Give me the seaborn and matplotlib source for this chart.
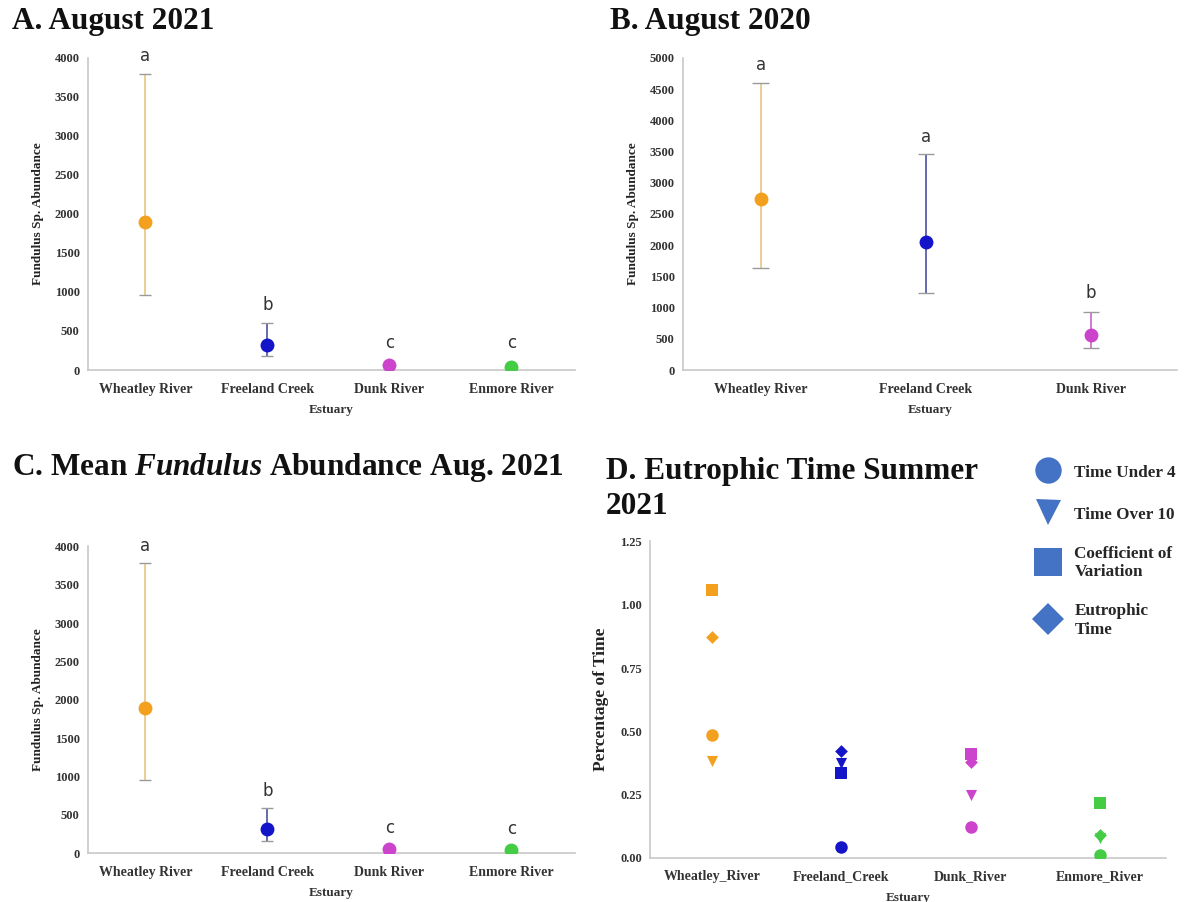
import numpy as np
import pandas as pd
import matplotlib
matplotlib.use("Agg")
import matplotlib.pyplot as plt
from matplotlib.lines import Line2D
import seaborn as sns

# ---- data -------------------------------------------------------------
estuaries_4 = ["Wheatley River", "Freeland Creek", "Dunk River", "Enmore River"]
estuaries_3 = ["Wheatley River", "Freeland Creek", "Dunk River"]

# A. August 2021
a_mean = [1900, 320, 62, 42]
a_low = [960, 180, 62, 42]
a_high = [3800, 600, 62, 42]
a_letters = ["a", "b", "c", "c"]
a_letter_y = [4030, 830, 345, 340]

# B. August 2020
b_mean = [2735, 2055, 560]
b_low = [1630, 1230, 345]
b_high = [4600, 3455, 925]
b_letters = ["a", "a", "b"]
b_letter_y = [4890, 3740, 1240]

# C. Mean Fundulus abundance Aug. 2021
c_mean = [1895, 310, 52, 34]
c_low = [955, 160, 52, 34]
c_high = [3785, 592, 52, 34]
c_letters = ["a", "b", "c", "c"]
c_letter_y = [4010, 815, 322, 318]

# D. Eutrophic time summer 2021
d_sites = ["Wheatley_River", "Freeland_Creek", "Dunk_River", "Enmore_River"]
d_time_under_4 = [0.487, 0.042, 0.123, 0.012]
d_time_over_10 = [0.383, 0.376, 0.249, 0.080]
d_coef_variation = [1.057, 0.334, 0.409, 0.216]
d_eutrophic_time = [0.871, 0.422, 0.380, 0.090]
d_metric_names = ["Time Under 4", "Time Over 10", "Coefficient of\nVariation", "Eutrophic\nTime"]

# ---- styling ------------------------------------------------------------
sns.set_theme(style="white")
plt.rcParams["font.family"] = ["Liberation Serif", "DejaVu Serif"]
plt.rcParams["mathtext.fontset"] = "custom"
plt.rcParams["mathtext.rm"] = "Liberation Serif"
plt.rcParams["mathtext.bf"] = "Liberation Serif:bold"
plt.rcParams["mathtext.it"] = "Liberation Serif:italic"
plt.rcParams["mathtext.bfit"] = "Liberation Serif:italic:bold"

site_colors = ["#F2A01E", "#1414C8", "#CC44CC", "#44CC44"]
errbar_colors = ["#EBC888", "#5A5FA8", "#D070D0", "#70D070"]
cap_color = "#9A9A9A"
axis_color = "#C8C8C8"
legend_color = "#4472C4"

fig = plt.figure(figsize=(11.93, 9.02), dpi=100)


def style_axes(ax, ylabel, ylabel_size=9.5):
    for side in ["top", "right"]:
        ax.spines[side].set_visible(False)
    for side in ["left", "bottom"]:
        ax.spines[side].set_color(axis_color)
        ax.spines[side].set_linewidth(1.2)
    ax.tick_params(axis="y", length=0, labelsize=9, pad=6)
    ax.tick_params(axis="x", length=3, color=axis_color, labelsize=10, pad=6)
    for lab in ax.get_xticklabels() + ax.get_yticklabels():
        lab.set_fontweight("bold")
        lab.set_color("#333333")
    ax.set_xlabel("Estuary", fontsize=9.5, fontweight="bold", color="#333333", labelpad=6)
    ax.set_ylabel(ylabel, fontsize=ylabel_size, fontweight="bold", color="#222222", labelpad=8)
    ax.grid(False)


def abundance_panel(rect, sites, mean, low, high, letters, letter_y, ymax, ystep):
    ax = fig.add_axes(rect)
    df = pd.DataFrame({"Estuary": sites, "Abundance": mean})
    for i in range(len(sites)):
        if high[i] > low[i]:
            ax.vlines(i, low[i], high[i], color=errbar_colors[i], lw=1.3, zorder=2)
            ax.hlines([low[i], high[i]], i - 0.05, i + 0.05, color=cap_color, lw=1.0, zorder=2)
    sns.stripplot(data=df, x="Estuary", y="Abundance", hue="Estuary",
                  palette=site_colors[:len(sites)], jitter=False, size=10,
                  legend=False, ax=ax, zorder=3)
    for i, (t, y) in enumerate(zip(letters, letter_y)):
        ax.text(i, y, t, ha="center", va="center", fontsize=12,
                family=["DejaVu Sans"], color="#333333")
    ax.set_ylim(0, ymax)
    ax.set_yticks(np.arange(0, ymax + 1, ystep))
    ax.set_xlim(-0.47, len(sites) - 0.48)
    style_axes(ax, "Fundulus Sp. Abundance")
    return ax


# A
abundance_panel([0.0738, 0.5898, 0.408, 0.346], estuaries_4, a_mean, a_low, a_high,
                a_letters, a_letter_y, 4000, 500)
# B
abundance_panel([0.5725, 0.5898, 0.414, 0.346], estuaries_3, b_mean, b_low, b_high,
                b_letters, b_letter_y, 5000, 500)
# C
abundance_panel([0.0738, 0.0543, 0.408, 0.340], estuaries_4, c_mean, c_low, c_high,
                c_letters, c_letter_y, 4000, 500)

# D
axd = fig.add_axes([0.545, 0.0488, 0.432, 0.351])
metric_values = [d_time_under_4, d_time_over_10, d_coef_variation, d_eutrophic_time]
metric_markers = ["o", "v", "s", "D"]
metric_sizes = [9, 8, 8, 6.5]
for vals, mk, sz in zip(metric_values, metric_markers, metric_sizes):
    dfd = pd.DataFrame({"Estuary": d_sites, "Percentage": vals})
    sns.stripplot(data=dfd, x="Estuary", y="Percentage", hue="Estuary",
                  palette=site_colors, jitter=False, marker=mk, size=sz,
                  legend=False, ax=axd, zorder=3)
axd.set_ylim(0, 1.25)
axd.set_yticks([0, 0.25, 0.5, 0.75, 1.0, 1.25])
axd.set_yticklabels(["0.00", "0.25", "0.50", "0.75", "1.00", "1.25"])
axd.set_xlim(-0.48, 3.51)
style_axes(axd, "Percentage of Time", ylabel_size=12.5)

handles = [Line2D([], [], linestyle="none", marker=m, color=legend_color,
                  markersize=s, markeredgewidth=0)
           for m, s in zip(metric_markers, [19, 18, 20, 16])]
fig.legend(handles, d_metric_names, loc="upper left",
           bbox_to_anchor=(1024 / 1193, 1 - 456 / 902), frameon=False,
           prop={"family": "Liberation Serif", "weight": "bold", "size": 12.3},
           labelspacing=1.35, handletextpad=0.55, borderaxespad=0,
           handleheight=1.2)

# panel titles
title_kw = dict(fontsize=22.5, fontweight="bold", color="#111111", va="center", ha="left")
fig.text(12 / 1193, 1 - 21 / 902, "A. August 2021", **title_kw)
fig.text(610 / 1193, 1 - 21 / 902, "B. August 2020", **title_kw)
fig.text(12 / 1193, 1 - 468 / 902,
         r"C. Mean $\mathbfit{Fundulus}$ Abundance Aug. 2021", **title_kw)
fig.text(606 / 1193, 1 - 489 / 902, "D. Eutrophic Time Summer\n2021",
         linespacing=1.3, **title_kw)

fig.savefig("out.png", dpi=100)
